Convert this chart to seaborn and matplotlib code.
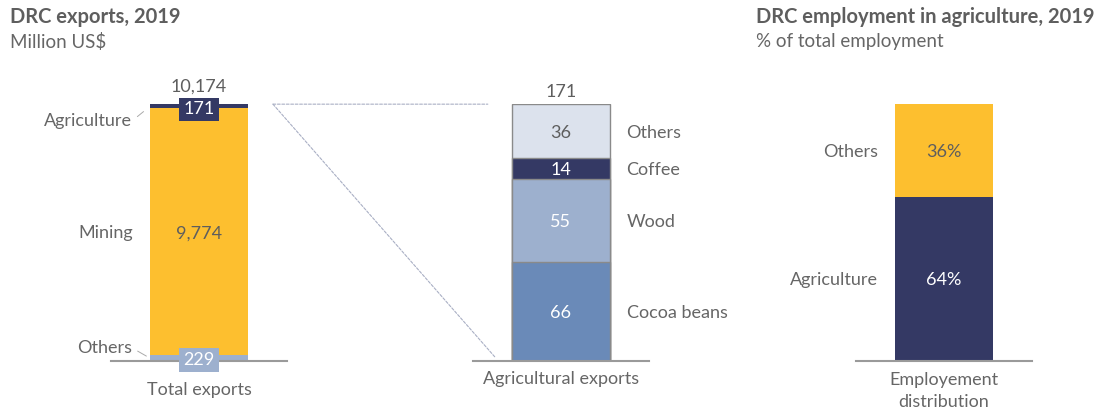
import matplotlib
matplotlib.use("Agg")
import matplotlib.pyplot as plt
import seaborn as sns
import pandas as pd
import numpy as np
from matplotlib.patches import ConnectionPatch

# ---------------- data ----------------
total_cat = ["Total exports"]
total_segments = ["Others", "Mining", "Agriculture"]          # bottom -> top
total_values = [229, 9774, 171]
total_label = "10,174"

agri_cat = ["Agricultural exports"]
agri_segments = ["Cocoa beans", "Wood", "Coffee", "Others"]  # bottom -> top
agri_values = [66, 55, 14, 36]
agri_label = "171"

emp_cat = ["Employement\ndistribution"]
emp_segments = ["Agriculture", "Others"]                     # bottom -> top
emp_values = [64, 36]

# ---------------- style ----------------
sns.set_theme(style="white")
plt.rcParams["font.family"] = ["Lato", "DejaVu Sans"]

NAVY = "#343964"
YELLOW = "#FDBF2F"
LBLUE = "#9DB0CE"
LIGHT = "#DCE2ED"
COCOA = "#6A8AB8"
GRAY = "#666666"
TGRAY = "#5E5E5E"
FS = 13
BW = 0.557
VA = "center_baseline"

total_colors = [LBLUE, YELLOW, NAVY]
agri_colors = [COCOA, LBLUE, NAVY, LIGHT]
emp_colors = [NAVY, YELLOW]

fig = plt.figure(figsize=(11.1, 4.15), dpi=100)
B, H, W = 0.130, 0.619, 0.1586
ax1 = fig.add_axes([0.100, B, W, H])
ax2 = fig.add_axes([0.426, B, W, H])
ax3 = fig.add_axes([0.771, B, W, H])


def stacked(ax, cat, segs, vals, colors, edge=None):
    cum = np.cumsum(vals)
    # draw tallest first so shorter cumulative bars overlay
    for i in range(len(vals) - 1, -1, -1):
        df = pd.DataFrame({"cat": cat, "val": [cum[i]]})
        sns.barplot(data=df, x="cat", y="val", ax=ax, color=colors[i],
                    saturation=1, width=BW,
                    edgecolor=edge if edge else colors[i],
                    linewidth=1.0 if edge else 0)
    ax.set_ylim(0, cum[-1])
    ax.set_xlim(-0.5, 0.5)
    for s in ["top", "right", "left"]:
        ax.spines[s].set_visible(False)
    ax.spines["bottom"].set_color("#9A9A9A")
    ax.spines["bottom"].set_linewidth(1.5)
    ax.set_yticks([])
    ax.set_xlabel("")
    ax.set_ylabel("")
    ax.tick_params(axis="x", length=0, labelsize=FS, labelcolor=GRAY)
    return cum


# ---------- panel 1 ----------
c1 = stacked(ax1, total_cat, total_segments, total_values, total_colors)
ax1.tick_params(axis="x", pad=15)
centers1 = c1 - np.array(total_values) / 2
# Mining value + label
ax1.text(0, centers1[1], f"{total_values[1]:,}", ha="center", va=VA,
         fontsize=FS, color=TGRAY)
ax1.annotate(total_segments[1], xy=(-BW / 2, centers1[1]), xytext=(-12, 0),
             textcoords="offset points", ha="right", va=VA,
             fontsize=FS, color=GRAY)
# Agriculture box
ax1.annotate(f"{total_values[2]:,}", xy=(0, centers1[2]), xytext=(0, -1.2),
             textcoords="offset points", ha="center", va=VA,
             fontsize=FS, color="white",
             bbox=dict(boxstyle="square,pad=0.22", fc=NAVY, ec="none"))
ax1.annotate(total_segments[2], xy=(-BW / 2, centers1[2]), xytext=(-13, -9.5),
             textcoords="offset points", ha="right", va=VA,
             fontsize=FS, color=GRAY,
             arrowprops=dict(arrowstyle="-", color="#AAAAAA", lw=0.7,
                             shrinkA=2, shrinkB=6, relpos=(1, 0.5)))
# Others box
ax1.text(0, centers1[0], f"{total_values[0]:,}", ha="center", va=VA,
         fontsize=FS, color="white",
         bbox=dict(boxstyle="square,pad=0.22", fc=LBLUE, ec="none"))
ax1.annotate(total_segments[0], xy=(-BW / 2, centers1[0]), xytext=(-13, 8.5),
             textcoords="offset points", ha="right", va=VA,
             fontsize=FS, color=GRAY,
             arrowprops=dict(arrowstyle="-", color="#AAAAAA", lw=0.7,
                             shrinkA=2, shrinkB=3, relpos=(1, 0.5)))
ax1.annotate(total_label, xy=(0, c1[-1]), xytext=(0, 14),
             textcoords="offset points", ha="center", va=VA,
             fontsize=FS, color=TGRAY)

# ---------- panel 2 ----------
c2 = stacked(ax2, agri_cat, agri_segments, agri_values, agri_colors, edge="#8A8A8A")
ax2.tick_params(axis="x", pad=7)
centers2 = c2 - np.array(agri_values) / 2
for i, (seg, v) in enumerate(zip(agri_segments, agri_values)):
    col = TGRAY if agri_colors[i] == LIGHT else "white"
    ax2.text(0, centers2[i], str(v), ha="center", va=VA,
             fontsize=FS, color=col)
    ax2.annotate(seg, xy=(BW / 2, centers2[i]), xytext=(12, 0),
                 textcoords="offset points", ha="left", va=VA,
                 fontsize=FS, color=GRAY)
ax2.annotate(agri_label, xy=(0, c2[-1]), xytext=(0, 10),
             textcoords="offset points", ha="center", va=VA,
             fontsize=FS, color=TGRAY)

# connectors
for (xa, ya), (xb, yb) in [((0.42, c1[-1]), (-0.415, c2[-1])),
                           ((0.42, c1[-1]), (-0.375, c2[-1] * 0.016))]:
    con = ConnectionPatch(xyA=(xa, ya), coordsA=ax1.transData,
                          xyB=(xb, yb), coordsB=ax2.transData,
                          linestyle=(0, (2.5, 1.5)), color="#A9AFC4", lw=0.8)
    fig.add_artist(con)

# ---------- panel 3 ----------
c3 = stacked(ax3, emp_cat, emp_segments, emp_values, emp_colors)
ax3.tick_params(axis="x", pad=8)
centers3 = c3 - np.array(emp_values) / 2
for i, (seg, v) in enumerate(zip(emp_segments, emp_values)):
    col = TGRAY if emp_colors[i] == YELLOW else "white"
    ax3.text(0, centers3[i], f"{v}%", ha="center", va=VA,
             fontsize=FS, color=col)
    ax3.annotate(seg, xy=(-BW / 2, centers3[i]), xytext=(-12, 0),
                 textcoords="offset points", ha="right", va=VA,
                 fontsize=FS, color=GRAY)
for lbl in ax3.get_xticklabels():
    lbl.set_linespacing(1.45)

# ---------- titles ----------
fig.text(0.009, 0.959, "DRC exports, 2019", fontsize=14.5, fontweight="bold",
         color=TGRAY, ha="left", va="center")
fig.text(0.009, 0.899, "Million US$", fontsize=13.5, color=GRAY,
         ha="left", va="center")
fig.text(0.681, 0.959, "DRC employment in agriculture, 2019", fontsize=14.5,
         fontweight="bold", color=TGRAY, ha="left", va="center")
fig.text(0.681, 0.899, "% of total employment", fontsize=13.5, color=GRAY,
         ha="left", va="center")

fig.savefig("out.png", dpi=100)
